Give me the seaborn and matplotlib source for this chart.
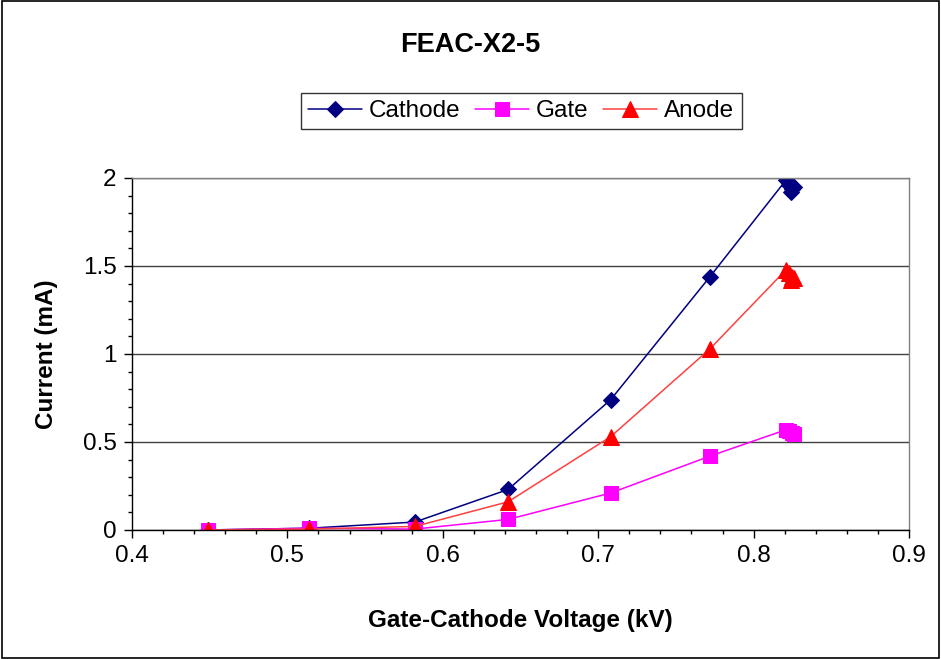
import matplotlib
matplotlib.use("Agg")
import matplotlib.pyplot as plt
import seaborn as sns
import pandas as pd
from matplotlib.patches import Rectangle
from matplotlib.ticker import MultipleLocator

# ---- data ----
cathode_v = [0.449, 0.514, 0.582, 0.642, 0.708, 0.772, 0.821, 0.823, 0.825, 0.824, 0.826]
cathode_i = [0.0, 0.01, 0.045, 0.23, 0.74, 1.44, 1.99, 1.96, 1.94, 1.92, 1.95]
gate_v = [0.449, 0.514, 0.582, 0.642, 0.708, 0.772, 0.821, 0.823, 0.825, 0.826]
gate_i = [0.0, 0.01, 0.005, 0.06, 0.21, 0.42, 0.57, 0.56, 0.55, 0.545]
anode_v = [0.449, 0.514, 0.582, 0.642, 0.708, 0.772, 0.821, 0.823, 0.825, 0.826, 0.824]
anode_i = [0.0, 0.005, 0.02, 0.16, 0.53, 1.03, 1.48, 1.46, 1.44, 1.43, 1.42]

title = "FEAC-X2-5"
xlabel = "Gate-Cathode Voltage (kV)"
ylabel = "Current (mA)"

sns.set_theme(style="white")
plt.rcParams['font.family'] = ['Liberation Sans', 'DejaVu Sans']
plt.rcParams['text.color'] = 'black'
plt.rcParams['axes.labelcolor'] = 'black'
plt.rcParams['xtick.color'] = 'black'
plt.rcParams['ytick.color'] = 'black'

fig = plt.figure(figsize=(9.41, 6.59), dpi=100)
ax = fig.add_axes([0.1403, 0.1958, 0.8257, 0.5341])

series = [
    ("Cathode", cathode_v, cathode_i, "#000080", "#000080", "D", 8.5),
    ("Gate", gate_v, gate_i, "#FF00FF", "#FF00FF", "s", 10),
    ("Anode", anode_v, anode_i, "#FF4040", "#FF0000", "^", 11),
]
for name, xv, yv, lc, mc, mk, ms in series:
    df = pd.DataFrame({"x": xv, "y": yv})
    sns.lineplot(data=df, x="x", y="y", ax=ax, sort=False, estimator=None,
                 color=lc, linewidth=1.1, marker=mk, markersize=ms,
                 markerfacecolor=mc, markeredgecolor=mc, label=name)

ax.set_xlim(0.4, 0.9)
ax.set_ylim(0, 2)
ax.xaxis.set_minor_locator(MultipleLocator(0.02))
ax.yaxis.set_minor_locator(MultipleLocator(0.1))
ax.set_xticks([0.4, 0.5, 0.6, 0.7, 0.8, 0.9])
ax.set_xticklabels(["0.4", "0.5", "0.6", "0.7", "0.8", "0.9"])
ax.set_yticks([0, 0.5, 1, 1.5, 2])
ax.set_yticklabels(["0", "0.5", "1", "1.5", "2"])
ax.tick_params(axis="both", which="major", direction="out", length=6, width=1,
               color="black", labelcolor="black", labelsize=17.5,
               bottom=True, left=True, pad=5)
ax.tick_params(axis="both", which="minor", direction="out", length=3, width=1,
               color="black", bottom=True, left=True)
ax.grid(axis="y", which="major", color="#404040", linewidth=1)
ax.set_axisbelow(True)
for s in ["top", "right"]:
    ax.spines[s].set_color("#808080")
    ax.spines[s].set_linewidth(1)
for s in ["left", "bottom"]:
    ax.spines[s].set_color("black")
    ax.spines[s].set_linewidth(1)

ax.set_xlabel(xlabel, fontsize=17.5, fontweight="bold", va="center", color="black")
ax.set_ylabel(ylabel, fontsize=17.5, fontweight="bold", va="center", color="black")
ax.xaxis.set_label_coords(0.5, -0.256)
ax.yaxis.set_label_coords(-0.11, 0.5)
fig.text(0.5, 1 - 45 / 659, title, fontsize=19.5, fontweight="bold",
         ha="center", va="center", color="black")

if ax.legend_:
    ax.legend_.remove()
handles, labels = ax.get_legend_handles_labels()
leg = fig.legend(handles, labels, loc="center", bbox_to_anchor=(0.554, 1 - 111 / 659),
                 ncol=3, fontsize=17.5, frameon=True, fancybox=False,
                 handlelength=2.2, columnspacing=0.6, handletextpad=0.3,
                 borderpad=0.3, borderaxespad=0, edgecolor="black")
leg.get_frame().set_linewidth(1)
for t in leg.get_texts():
    t.set_color("black")

fig.patches.append(Rectangle((0.002, 0.002), 0.996, 0.996, transform=fig.transFigure,
                             fill=False, edgecolor="black", linewidth=1.2))

fig.savefig("out.png", dpi=100, facecolor="white")
